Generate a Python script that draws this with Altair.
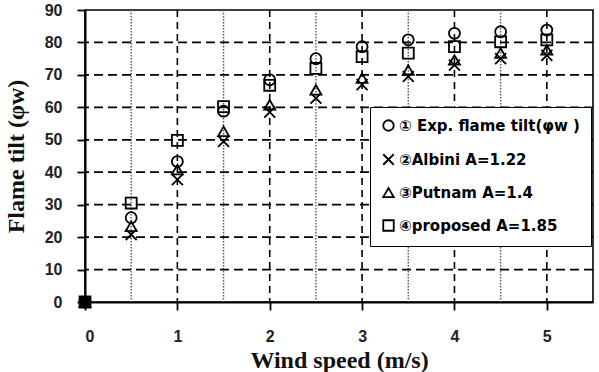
import altair as alt
import pandas as pd

# ---- data ----
wind = [0, 0.5, 1, 1.5, 2, 2.5, 3, 3.5, 4, 4.5, 5]
exp_tilt = [0, 26, 43.3, 58.8, 68.5, 75, 78.7, 80.8, 82.8, 83.3, 83.8]
albini = [0, 20.8, 37.7, 49.5, 58.5, 62.8, 67, 69.5, 73, 75, 76]
putnam = [0, 23.3, 40.8, 52.6, 60.8, 65.4, 69, 71.5, 74.6, 76.7, 77.7]
proposed = [0, 30.5, 49.8, 60.2, 66.8, 72, 75.6, 76.7, 78.7, 80.2, 80.8]

series_names = [
    "\u2460 Exp. flame tilt(\u03c6w )",
    "\u2461Albini A=1.22",
    "\u2462Putnam A=1.4",
    "\u2463proposed A=1.85",
]
series_values = [exp_tilt, albini, putnam, proposed]

x_ticks = [0, 1, 2, 3, 4, 5]
y_ticks = [0, 10, 20, 30, 40, 50, 60, 70, 80, 90]
h_grid = [10, 20, 30, 40, 50, 60, 70, 80]
v_dash = [1, 2, 3, 4, 5]
v_dot = [0.5, 1.5, 2.5, 3.5, 4.5]

rows = []
for name, vals in zip(series_names, series_values):
    for xv, yv in zip(wind, vals):
        rows.append({"wind": xv, "tilt": yv, "series": name})
df = pd.DataFrame(rows)

X_PATH = "M-1,-1L1,1M1,-1L-1,1"
shape_range = ["circle", X_PATH, "triangle-up", "square"]

xscale = alt.Scale(domain=[0, 5.5], nice=False, zero=False)
yscale = alt.Scale(domain=[0, 90], nice=False)

x_axis = alt.Axis(
    values=x_ticks,
    format="d",
    labelOverlap=False,
    labelPadding=18,
    title="Wind speed (m/s)",
    titleY=65,
    titleBaseline="alphabetic",
)
y_axis = alt.Axis(
    values=y_ticks,
    tickCount=10,
    format="d",
    labelOverlap=False,
    labelPadding=15,
    title="Flame tilt (\u03c6w)",
    titleX=-69,
    titleY=146,
    titleAngle=270,
    titleAlign="center",
    titleBaseline="middle",
)

hgrid = alt.Chart(pd.DataFrame({"y": h_grid})).mark_rule(
    color="black", strokeWidth=1.8, strokeDash=[9, 5]
).encode(y=alt.Y("y:Q", scale=yscale, axis=y_axis))

vdash = alt.Chart(pd.DataFrame({"x": v_dash})).mark_rule(
    color="black", strokeWidth=1.6, strokeDash=[7, 5]
).encode(x=alt.X("x:Q", scale=xscale, axis=x_axis))

vdot = alt.Chart(pd.DataFrame({"x": v_dot})).mark_rule(
    color="#555555", strokeWidth=1.4, strokeDash=[1.5, 1.5]
).encode(x=alt.X("x:Q", scale=xscale, axis=x_axis))

points = alt.Chart(df).mark_point(
    filled=False, stroke="black", strokeWidth=1.8, size=120, opacity=1
).encode(
    x=alt.X("wind:Q", scale=xscale, axis=x_axis),
    y=alt.Y("tilt:Q", scale=yscale, axis=y_axis),
    shape=alt.Shape(
        "series:N",
        sort=series_names,
        scale=alt.Scale(domain=series_names, range=shape_range),
        legend=alt.Legend(
            title=None,
            orient="none",
            legendX=285,
            legendY=97,
            fillColor="white",
            strokeColor="black",
            padding=11,
            rowPadding=15,
            labelFont="DejaVu Sans",
            labelFontSize=15,
            labelFontWeight="bold",
            labelColor="black",
            labelOffset=3,
            symbolSize=110,
            symbolStrokeWidth=1.8,
            symbolStrokeColor="black",
            symbolFillColor="transparent",
            labelLimit=400,
        ),
    ),
)

origin = alt.Chart(df).transform_filter(
    (alt.datum.wind == 0) & (alt.datum.series == series_names[3])
).mark_point(
    shape="square", filled=True, color="black", size=120, opacity=1
).encode(
    x=alt.X("wind:Q", scale=xscale, axis=x_axis),
    y=alt.Y("tilt:Q", scale=yscale, axis=y_axis),
)

chart = (
    alt.layer(vdot, vdash, hgrid, points, origin)
    .properties(
        width=508,
        height=292,
        background="white",
        autosize=alt.AutoSizeParams(type="none"),
        padding={"left": 85, "top": 10, "right": 6, "bottom": 70},
    )
    .configure_view(stroke="black", strokeWidth=1.6)
    .configure_axis(
        grid=False,
        domainColor="black",
        domainWidth=2,
        tickColor="black",
        tickWidth=1.8,
        tickSize=8,
        labelFont="Liberation Sans",
        labelFontSize=16,
        labelFontWeight="bold",
        labelColor="#222222",
        titleFont="Liberation Serif",
        titleFontSize=24,
        titleFontWeight="bold",
        titleColor="#111111",
    )
)

chart.save("out.html", embed_options={"renderer": "svg", "actions": False})
